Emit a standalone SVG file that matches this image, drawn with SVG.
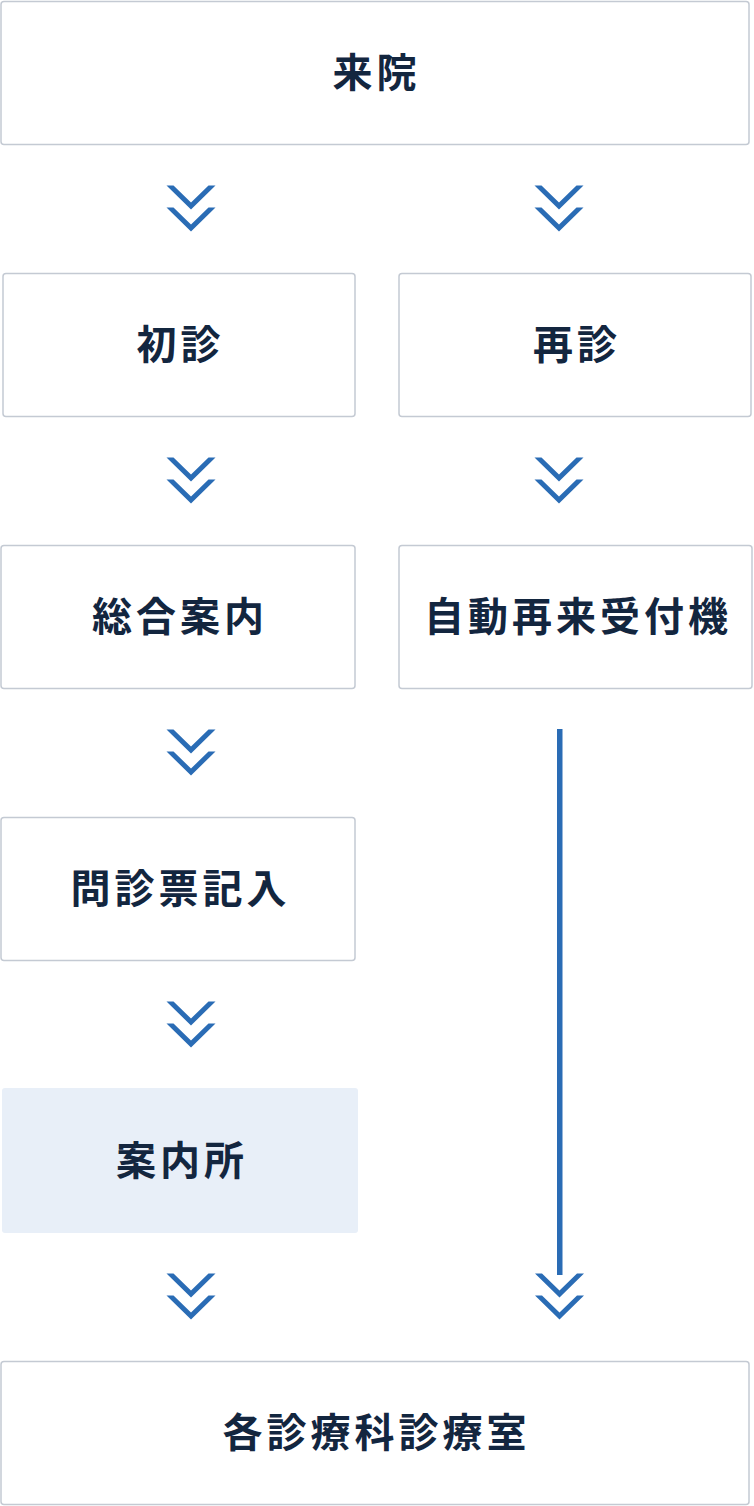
<svg xmlns="http://www.w3.org/2000/svg" width="754" height="1506" viewBox="0 0 754 1506">
<defs>
<style>
.box{fill:#ffffff;stroke:#c4cad3;stroke-width:1.5}
.hl{fill:#e8eff8;stroke:none}
.lbl{font-family:"Noto Sans CJK JP","Noto Sans",sans-serif;font-weight:700;font-size:40px;fill:#13263f;letter-spacing:4px;text-anchor:middle}
.chev{fill:#2a6cb5}
</style>
<polygon id="chv" points="-24.5,0 0,24 24.5,0 17.5,0 0,17 -17.5,0"/>
</defs>
<rect width="754" height="1506" fill="#ffffff"/>
<g id="node-raiin"><rect class="box" x="1" y="1.5" width="748" height="143" rx="3"/><text class="lbl" x="376.5" y="87">来院</text></g>
<g id="node-shoshin"><rect class="box" x="3" y="273.5" width="352" height="143" rx="3"/><text class="lbl" x="180.5" y="359">初診</text></g>
<g id="node-saishin"><rect class="box" x="399" y="273.5" width="352" height="143" rx="3"/><text class="lbl" x="577" y="359">再診</text></g>
<g id="node-sogo"><rect class="box" x="1" y="545.5" width="354" height="143" rx="3"/><text class="lbl" x="180" y="631">総合案内</text></g>
<g id="node-jido"><rect class="box" x="399" y="545.5" width="353" height="143" rx="3"/><text class="lbl" x="578" y="631">自動再来受付機</text></g>
<g id="node-monshin"><rect class="box" x="1" y="817.5" width="354" height="143" rx="3"/><text class="lbl" x="180.5" y="903">問診票記入</text></g>
<g id="node-annaijo"><rect class="hl" x="2" y="1088" width="356" height="145" rx="3"/><text class="lbl" x="182" y="1175">案内所</text></g>
<g id="node-kaku"><rect class="box" x="1" y="1361.5" width="748" height="143" rx="3"/><text class="lbl" x="376.5" y="1447">各診療科診療室</text></g>
<g id="connectors" class="chev">
<use href="#chv" x="191" y="185.5"/><use href="#chv" x="191" y="207.5"/>
<use href="#chv" x="559" y="185.5"/><use href="#chv" x="559" y="207.5"/>
<use href="#chv" x="191" y="457.5"/><use href="#chv" x="191" y="479.5"/>
<use href="#chv" x="559" y="457.5"/><use href="#chv" x="559" y="479.5"/>
<use href="#chv" x="191" y="729.5"/><use href="#chv" x="191" y="751.5"/>
<use href="#chv" x="191" y="1001.5"/><use href="#chv" x="191" y="1023.5"/>
<use href="#chv" x="191" y="1273.5"/><use href="#chv" x="191" y="1295.5"/>
<rect x="557" y="729" width="5.5" height="546"/>
<use href="#chv" x="559.5" y="1273.5"/><use href="#chv" x="559.5" y="1295.5"/>
</g>
</svg>
